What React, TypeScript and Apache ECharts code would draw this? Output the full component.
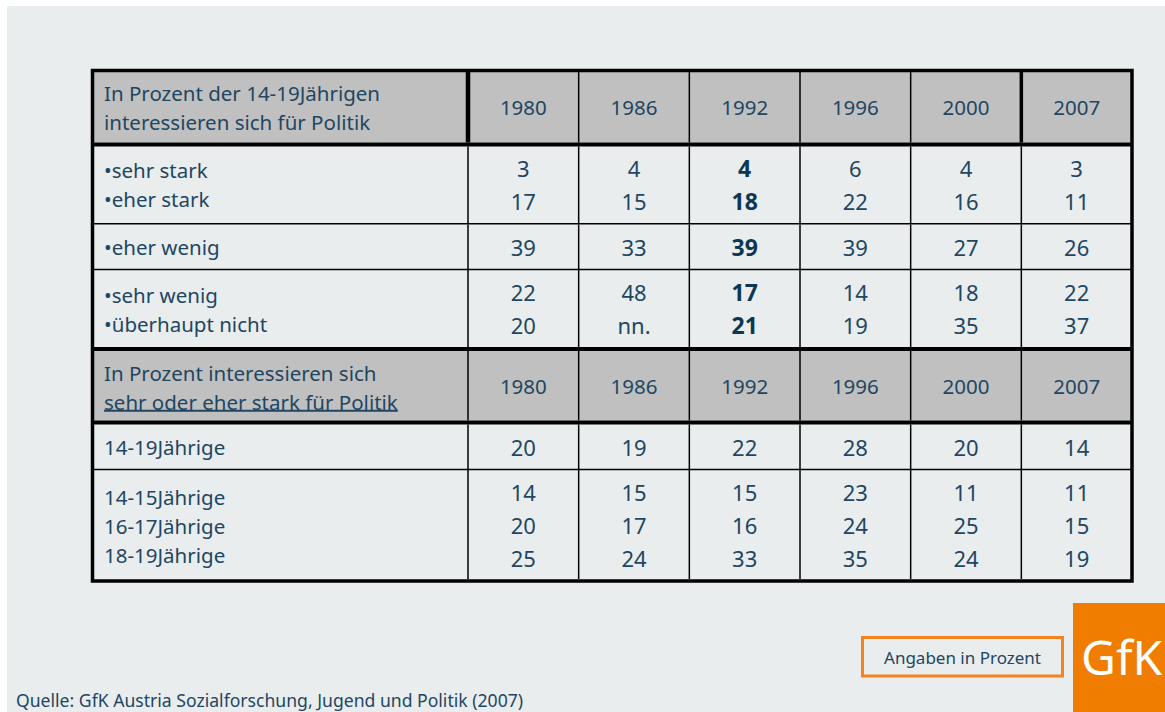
import React, { useEffect, useRef } from "react";
import * as echarts from "echarts";

// ---------- data ----------
const years = ["1980", "1986", "1992", "1996", "2000", "2007"];
const highlightYear = "1992";

const headerLabels1 = ["In Prozent der 14-19Jährigen", "interessieren sich für Politik"];
const interestLabelsA = ["•sehr stark", "•eher stark"];
const interestLabelsB = ["•eher wenig"];
const interestLabelsC = ["•sehr wenig", "•überhaupt nicht"];
const headerLabels2 = ["In Prozent interessieren sich", "sehr oder eher stark für Politik"];
const ageLabelsA = ["14-19Jährige"];
const ageLabelsB = ["14-15Jährige", "16-17Jährige", "18-19Jährige"];

const sehrStark = ["3", "4", "4", "6", "4", "3"];
const eherStark = ["17", "15", "18", "22", "16", "11"];
const eherWenig = ["39", "33", "39", "39", "27", "26"];
const sehrWenig = ["22", "48", "17", "14", "18", "22"];
const ueberhauptNicht = ["20", "nn.", "21", "19", "35", "37"];
const age14to19 = ["20", "19", "22", "28", "20", "14"];
const age14to15 = ["14", "15", "15", "23", "11", "11"];
const age16to17 = ["20", "17", "16", "24", "25", "15"];
const age18to19 = ["25", "24", "33", "35", "24", "19"];

const unitNote = "Angaben in Prozent";
const sourceNote = "Quelle: GfK Austria Sozialforschung, Jugend und Politik (2007)";
const brand = "GfK";

// ---------- layout / style ----------
const FONT = "'Noto Sans', 'Open Sans', sans-serif";
const TXT = "#1f4662";
const TXT_BOLD = "#0d3653";
const PAGE_BG = "#e9edee";
const HEAD_BG = "#c0c0c0";
const ORANGE = "#f07d00";

const TL = 92.5, TR = 1132, TT = 70.5, TB = 581; // table border (centre of line)
const COL1 = 468; // first column divider
const LABEL_X = 104;
const LABEL_LH = 29;
const NUM_LH = 33;

type Block = {
  top: number;
  bottom: number;
  header: boolean;
  labels: string[];
  values: string[][];
  boldCol: boolean;
  labelShift: number;
};

const blocks: Block[] = [
  { top: 72, bottom: 142.5, header: true, labels: headerLabels1, values: [years], boldCol: false, labelShift: 0 },
  { top: 146.5, bottom: 223, header: false, labels: interestLabelsA, values: [sehrStark, eherStark], boldCol: true, labelShift: 0 },
  { top: 224.5, bottom: 269, header: false, labels: interestLabelsB, values: [eherWenig], boldCol: true, labelShift: 0 },
  { top: 270, bottom: 347, header: false, labels: interestLabelsC, values: [sehrWenig, ueberhauptNicht], boldCol: true, labelShift: 1 },
  { top: 351, bottom: 420.5, header: true, labels: headerLabels2, values: [years], boldCol: false, labelShift: 1.5 },
  { top: 424.5, bottom: 469, header: false, labels: ageLabelsA, values: [age14to19], boldCol: false, labelShift: 0 },
  { top: 470, bottom: 579, header: false, labels: ageLabelsB, values: [age14to15, age16to17, age18to19], boldCol: false, labelShift: 1.5 },
];

type Cell = { col: number; y: number; text: string; bold: boolean; header: boolean };

function buildCells(): Cell[] {
  const cells: Cell[] = [];
  blocks.forEach((b) => {
    const mid = (b.top + b.bottom) / 2;
    const n = b.values.length;
    b.values.forEach((row, li) => {
      const y = mid + (li - (n - 1) / 2) * NUM_LH;
      row.forEach((v, ci) => {
        cells.push({
          col: ci,
          y,
          text: v,
          bold: b.boldCol && years[ci] === highlightYear,
          header: b.header,
        });
      });
    });
  });
  return cells;
}

function measure(text: string, font: string): number {
  const c = document.createElement("canvas").getContext("2d");
  if (!c) return text.length * 10;
  c.font = font;
  return c.measureText(text).width;
}

export default function App() {
  const ref = useRef<HTMLDivElement>(null);

  useEffect(() => {
    if (!ref.current) return;
    const chart = echarts.init(ref.current, null, { renderer: "svg" });
    const cells = buildCells();

    const g: any[] = [];
    // page background
    g.push({ type: "rect", z: 0, shape: { x: 7, y: 6, width: 1165 - 7, height: 712 - 6 }, style: { fill: PAGE_BG } });

    // header fills
    blocks.forEach((b) => {
      if (b.header) {
        g.push({ type: "rect", z: 1, shape: { x: TL, y: b.top, width: TR - TL, height: b.bottom - b.top }, style: { fill: HEAD_BG } });
      }
    });

    const line = (x1: number, y1: number, x2: number, y2: number, w: number, color = "#000") =>
      g.push({ type: "line", z: 10, shape: { x1, y1, x2, y2 }, style: { stroke: color, lineWidth: w } });

    // horizontal separators
    blocks.forEach((b, i) => {
      if (i === blocks.length - 1) return;
      const next = blocks[i + 1];
      const y = (b.bottom + next.top) / 2;
      const thick = b.header || next.header;
      line(TL, y, TR, y, thick ? 4 : 1.5);
    });

    // vertical separators
    const colW = (TR - COL1) / years.length;
    blocks.forEach((b) => {
      line(COL1, b.top, COL1, b.bottom, b === blocks[0] ? 4.5 : 1.5);
      for (let i = 1; i < years.length; i++) {
        const x = COL1 + i * colW;
        const thick = b === blocks[0] && i === years.length - 1;
        line(x, b.top, x, b.bottom, thick ? 3.5 : 1.5);
      }
    });

    // outer border
    g.push({ type: "rect", z: 11, shape: { x: TL, y: TT, width: TR - TL, height: TB - TT }, style: { fill: "none", stroke: "#000", lineWidth: 3.5 } });

    // row labels
    blocks.forEach((b) => {
      const mid = (b.top + b.bottom) / 2 + b.labelShift;
      const n = b.labels.length;
      b.labels.forEach((t, li) => {
        const y = mid + (li - (n - 1) / 2) * LABEL_LH;
        g.push({
          type: "text",
          z: 12,
          x: LABEL_X,
          y,
          style: { text: t, fill: TXT, font: `20.5px ${FONT}`, textAlign: "left", textVerticalAlign: "middle", align: "left", verticalAlign: "middle" },
        });
      });
    });

    // underline of second header's second line
    const h2 = blocks[4];
    const ulW = measure(headerLabels2[1], `20.5px ${FONT}`);
    const ulY = (h2.top + h2.bottom) / 2 + h2.labelShift + LABEL_LH / 2 + 9;
    line(LABEL_X, ulY, LABEL_X + ulW, ulY, 2, TXT);

    // unit note box
    g.push({ type: "rect", z: 12, shape: { x: 862.5, y: 637.5, width: 200, height: 38.5 }, style: { fill: "none", stroke: "#f5821f", lineWidth: 3 } });
    g.push({
      type: "text", z: 13, x: 962.5, y: 657,
      style: { text: unitNote, fill: TXT, font: `17px ${FONT}`, textAlign: "center", textVerticalAlign: "middle", align: "center", verticalAlign: "middle" },
    });

    // brand block
    g.push({ type: "rect", z: 12, shape: { x: 1073, y: 603, width: 92, height: 109 }, style: { fill: ORANGE } });
    g.push({
      type: "text", z: 13, x: 1081, y: 656,
      style: { text: brand, fill: "#ffffff", font: `48px ${FONT}`, textAlign: "left", textVerticalAlign: "middle", align: "left", verticalAlign: "middle" },
    });

    // source
    g.push({
      type: "text", z: 13, x: 16, y: 700,
      style: { text: sourceNote, fill: TXT, font: `17.6px ${FONT}`, textAlign: "left", textVerticalAlign: "middle", align: "left", verticalAlign: "middle" },
    });

    chart.setOption({
      animation: false,
      backgroundColor: "#ffffff",
      grid: { left: COL1, right: 1165 - TR, top: TT, bottom: 712 - TB, containLabel: false },
      xAxis: {
        type: "category",
        data: years,
        boundaryGap: true,
        show: false,
      },
      yAxis: { type: "value", min: TT, max: TB, inverse: true, show: false },
      graphic: { elements: g },
      series: [
        {
          type: "custom",
          z: 20,
          silent: true,
          data: cells.map((c) => [c.col, c.y]),
          renderItem: (params: any, api: any) => {
            const c = cells[params.dataIndex];
            const p = api.coord([api.value(0), api.value(1)]);
            const size = c.header ? 20.5 : c.bold ? 23 : 22;
            return {
              type: "text",
              x: p[0],
              y: p[1],
              style: {
                text: c.text,
                fill: c.bold ? TXT_BOLD : TXT,
                font: `${c.bold ? "bold " : ""}${size}px ${FONT}`,
                textAlign: "center",
                textVerticalAlign: "middle",
                align: "center",
                verticalAlign: "middle",
              },
            };
          },
        },
      ],
    });

    return () => chart.dispose();
  }, []);

  return (
    <div
      ref={ref}
      style={{ position: "absolute", left: 0, top: 0, width: 1165, height: 712 }}
    />
  );
}
